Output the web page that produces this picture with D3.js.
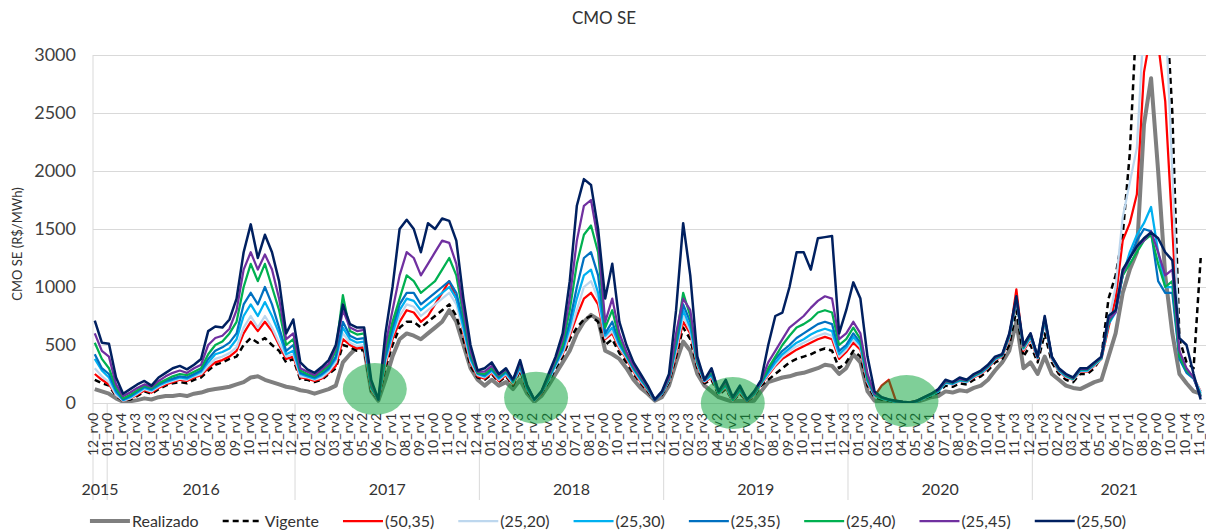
<!DOCTYPE html>
<html>
<head>
<meta charset="utf-8">
<script src="https://cdn.jsdelivr.net/npm/d3@7"></script>
<style>
  body { margin: 0; background: #fff; font-family: Lato, "Open Sans", sans-serif; }
</style>
</head>
<body>
<div id="chart"></div>
<script>
// weekly revisions (rv0, rv1, ...) per month, Jan..Dec, for each year
const monthWeeks = {
  2015: [0, 0, 0, 0, 0, 0, 0, 0, 0, 0, 0, 4],
  2016: [5, 4, 4, 5, 4, 4, 5, 4, 5, 4, 4, 5],
  2017: [4, 4, 5, 4, 4, 5, 4, 4, 5, 4, 4, 5],
  2018: [4, 4, 5, 4, 4, 5, 4, 5, 4, 4, 5, 4],
  2019: [4, 4, 5, 4, 5, 4, 4, 5, 4, 4, 5, 4],
  2020: [5, 4, 4, 4, 5, 4, 5, 4, 4, 5, 4, 4],
  2021: [5, 4, 4, 5, 4, 4, 5, 4, 4, 5, 5, 0]
};

const yTicks = [0, 500, 1000, 1500, 2000, 2500, 3000];
const labelEvery = 4;   // excel shows every 4th category
const sampleStep = 2;   // series values below are read every 2 weeks

// R$/MWh, one value every 2 weeks starting at 12_rv0 2015
const realizado = [
  120,100,80,40,10,15,25,40,30,50,
  60,60,70,60,80,90,110,120,130,140,
  160,180,220,230,200,180,160,140,130,110,
  100,80,100,120,150,350,420,480,470,100,
  20,200,400,550,600,580,550,600,650,700,
  800,700,500,300,200,150,200,150,180,120,
  200,80,10,60,150,250,350,450,600,700,
  760,720,450,420,380,300,200,130,80,20,
  50,150,350,530,450,250,150,100,50,30,
  10,20,10,20,100,180,200,220,230,250,
  260,280,300,330,320,250,300,420,350,100,
  20,10,5,0,0,0,10,30,50,60,
  100,90,110,100,130,150,200,280,350,450,
  700,300,350,250,400,250,200,150,130,120,
  150,180,200,400,600,950,1150,1300,2400,2800,
  2000,1100,600,250,170,100,80
];
const vigente = [
  200,170,150,60,20,30,60,100,80,120,
  150,170,180,170,200,220,280,330,350,380,
  400,500,560,520,560,500,450,350,380,200,
  200,180,200,250,300,500,480,450,460,100,
  30,300,500,650,700,700,650,700,750,800,
  850,750,550,320,220,200,250,180,230,150,
  280,100,20,80,180,300,400,550,650,720,
  750,700,500,550,430,350,250,170,100,25,
  70,180,400,650,550,300,170,200,70,120,
  20,80,15,60,150,200,250,300,350,380,
  400,420,450,470,450,300,350,450,400,150,
  50,30,20,10,5,0,15,40,60,90,
  150,140,170,160,200,230,280,350,380,500,
  800,400,500,350,600,350,250,200,180,250,
  250,300,400,900,1100,1450,2150,3400,3600,3600,
  3600,3600,2500,550,350,300,1250
];
const s50_35 = [
  250,200,160,70,20,40,70,110,90,130,
  160,180,200,190,220,240,300,350,370,400,
  450,600,700,620,700,620,500,380,400,220,
  210,190,210,260,320,550,500,470,480,110,
  30,330,550,700,800,780,700,750,850,950,
  1050,900,600,350,230,210,260,190,240,160,
  290,110,20,80,200,330,420,580,750,900,
  950,850,550,600,470,380,270,180,110,25,
  75,190,430,700,600,320,180,220,80,130,
  20,90,15,65,160,240,320,380,420,460,
  490,520,550,570,550,380,440,520,460,170,
  60,150,200,20,10,5,20,50,75,110,
  180,160,190,180,220,250,300,370,400,550,
  980,450,550,380,700,380,270,220,200,270,
  270,320,380,650,900,1400,1550,1800,2850,3200,
  3100,2600,1500,400,280,220,100
];
const s25_20 = [
  300,230,180,70,20,40,80,120,100,140,
  170,190,210,200,230,250,320,380,400,430,
  480,650,750,650,750,650,520,400,420,230,
  220,200,220,270,350,600,520,490,500,120,
  30,350,580,750,850,830,750,800,850,900,
  950,850,620,360,240,220,270,200,250,170,
  300,120,20,90,190,320,430,600,800,1000,
  1050,900,560,620,480,390,280,190,115,25,
  80,195,450,750,620,330,185,230,80,140,
  20,100,20,70,165,250,330,400,450,490,
  520,550,580,600,580,400,460,550,480,180,
  60,40,25,10,5,0,15,40,70,100,
  170,160,190,180,225,255,305,375,405,560,
  900,460,560,385,700,385,275,225,200,275,
  275,325,380,700,1000,1600,1900,2200,3300,3400,
  3400,3400,2000,400,280,220,100
];
const s25_30 = [
  380,280,220,90,25,50,90,130,110,150,
  180,200,220,210,240,270,350,420,440,470,
  550,750,850,750,870,750,600,420,450,250,
  230,210,240,290,380,650,550,520,530,130,
  30,380,600,800,900,880,800,850,900,950,
  1000,900,650,380,250,230,280,210,260,180,
  310,120,25,90,200,330,450,650,900,1100,
  1150,950,580,650,500,400,290,200,120,25,
  80,200,480,800,650,340,190,240,85,150,
  25,110,20,75,170,260,350,420,470,520,
  550,590,620,640,620,420,480,570,500,190,
  65,40,25,10,5,0,15,45,70,100,
  175,165,195,185,230,260,310,380,410,570,
  900,470,570,390,710,390,280,230,205,280,
  280,330,385,680,780,1100,1300,1450,1550,1690,
  1300,1000,1000,400,280,220,80
];
const s25_35 = [
  420,300,250,110,30,60,100,140,120,160,
  190,210,230,220,250,280,380,450,480,520,
  600,850,950,850,1000,850,650,450,500,260,
  240,220,250,300,400,700,580,550,560,140,
  30,400,650,850,950,950,850,900,950,1000,
  1050,950,700,400,255,240,290,220,270,190,
  320,130,25,90,210,340,470,700,1000,1250,
  1300,1100,600,700,520,410,300,210,125,25,
  85,205,500,850,700,350,195,250,90,160,
  30,120,20,80,175,280,380,450,500,560,
  600,640,680,700,680,450,500,600,520,200,
  70,45,30,10,5,0,15,45,75,105,
  180,170,200,190,235,265,315,385,410,580,
  900,480,580,395,720,395,285,235,210,285,
  285,335,390,690,790,1100,1250,1400,1500,1480,
  1050,950,950,380,260,210,60
];
const s25_40 = [
  520,380,300,130,40,70,110,150,130,170,
  200,230,250,240,270,300,420,500,530,600,
  700,1000,1200,1050,1200,1000,800,500,550,280,
  250,230,270,320,450,930,620,590,600,150,
  30,450,700,900,1100,1050,950,1000,1050,1150,
  1250,1100,750,420,260,250,300,230,280,200,
  340,140,30,100,220,360,500,800,1200,1450,
  1530,1300,650,800,550,420,310,220,130,30,
  90,210,550,950,750,360,200,270,90,170,
  30,130,25,85,180,300,400,500,580,650,
  680,720,780,800,780,500,550,650,550,220,
  75,45,30,15,8,0,20,50,75,110,
  185,175,205,190,240,270,320,390,415,580,
  900,480,590,400,730,400,290,240,210,290,
  290,340,390,700,800,1100,1200,1300,1400,1450,
  1200,1000,1050,400,280,220,60
];
const s25_45 = [
  600,450,400,160,60,90,130,160,140,190,
  230,260,280,260,300,330,500,560,580,640,
  800,1150,1300,1150,1280,1150,900,550,600,300,
  270,240,290,340,480,800,650,620,630,160,
  30,500,800,1100,1300,1250,1100,1200,1300,1400,
  1380,1200,800,450,270,270,320,240,290,200,
  350,150,30,100,230,380,550,900,1400,1700,
  1750,1400,700,900,600,440,320,230,140,30,
  95,220,600,900,800,380,200,290,100,180,
  40,140,25,90,190,350,450,550,650,700,
  750,820,880,920,900,550,600,700,600,250,
  80,50,30,15,8,0,20,50,80,115,
  190,180,210,195,245,275,325,395,420,590,
  900,490,600,400,740,400,295,245,215,295,
  295,345,395,720,780,1120,1250,1350,1400,1480,
  1300,1100,1150,450,300,220,50
];
const s25_50 = [
  710,520,510,220,80,120,160,190,150,220,
  260,300,320,290,330,380,620,660,650,720,
  900,1300,1540,1250,1450,1300,1050,600,720,350,
  290,260,310,370,500,850,680,650,650,200,
  30,600,1000,1500,1580,1500,1300,1550,1500,1590,
  1570,1400,900,500,280,300,350,250,300,200,
  370,150,30,100,250,400,600,1050,1700,1930,
  1880,1500,900,1200,700,500,350,250,150,30,
  100,250,800,1550,1100,400,200,300,100,200,
  50,150,30,100,200,500,750,780,1000,1300,
  1300,1150,1420,1430,1440,600,800,1040,900,400,
  100,50,30,20,10,5,20,50,80,120,
  200,180,220,200,250,280,330,400,420,600,
  920,500,600,400,750,400,300,250,220,300,
  300,350,400,750,800,1150,1250,1350,1420,1470,
  1420,1300,1230,560,500,250,30
];

// green highlight ellipses (week index, value)
const highlights = [
  { week: 79, value: 120 },
  { week: 124.5, value: 45 },
  { week: 180, value: 0 },
  { week: 229, value: 17 }
];

const series = [
  { name: "Realizado", values: realizado, color: "#7f7f7f", width: 4 },
  { name: "Vigente", values: vigente, color: "#000000", width: 2.5, dash: "6,4" },
  { name: "(50,35)", values: s50_35, color: "#ff0000", width: 2.25 },
  { name: "(25,20)", values: s25_20, color: "#bdd7ee", width: 2.25 },
  { name: "(25,30)", values: s25_30, color: "#00b0f0", width: 2.25 },
  { name: "(25,35)", values: s25_35, color: "#0070c0", width: 2.25 },
  { name: "(25,40)", values: s25_40, color: "#00b050", width: 2.25 },
  { name: "(25,45)", values: s25_45, color: "#7030a0", width: 2.25 },
  { name: "(25,50)", values: s25_50, color: "#002060", width: 2.5 }
];

// build the week categories
let weeks = [];
let years = [];
Object.keys(monthWeeks).forEach(yr => {
  let start = weeks.length;
  monthWeeks[yr].forEach((n, m) => {
    for (let r = 0; r < n; r++) {
      weeks.push({ year: +yr, label: String(m + 1).padStart(2, "0") + "_rv" + r });
    }
  });
  years.push({ year: yr, start: start, end: weeks.length });
});

const W = 1206, H = 531;
const plot = { left: 93, right: 1206, top: 55, bottom: 403 };

const svg = d3.select("#chart").append("svg")
  .attr("width", W).attr("height", H);

const x = d3.scaleBand()
  .domain(d3.range(weeks.length))
  .range([plot.left, plot.right])
  .padding(0);
const bw = x.bandwidth();

const y = d3.scaleLinear().domain([0, 3000]).range([plot.bottom, plot.top]);

// title
svg.append("text")
  .attr("x", 604).attr("y", 24)
  .attr("text-anchor", "middle")
  .style("font-size", "17px").style("fill", "#333")
  .text("CMO SE");

// y axis + gridlines
const yAxis = svg.append("g")
  .attr("transform", `translate(${plot.left},0)`)
  .call(d3.axisLeft(y).tickValues(yTicks).tickSize(-(plot.right - plot.left)).tickPadding(17).tickFormat(d3.format("d")));
yAxis.select(".domain").remove();
yAxis.selectAll(".tick line").attr("stroke", "#d9d9d9");
yAxis.selectAll(".tick text")
  .style("font-size", "18px").style("font-family", "Lato, sans-serif").style("fill", "#404040");

svg.append("text")
  .attr("transform", "translate(22,244) rotate(-90)")
  .attr("text-anchor", "middle")
  .style("font-size", "13px").style("fill", "#333")
  .text("CMO SE (R$/MWh)");

// left axis line and year separators
svg.append("line")
  .attr("x1", plot.left).attr("x2", plot.left)
  .attr("y1", plot.top).attr("y2", 500)
  .attr("stroke", "#d9d9d9");

svg.selectAll(".year-sep")
  .data(years.slice(1))
  .enter().append("line")
  .attr("class", "year-sep")
  .attr("x1", d => x(d.start)).attr("x2", d => x(d.start))
  .attr("y1", plot.bottom).attr("y2", 500)
  .attr("stroke", "#d9d9d9");

// category labels
const xAxis = svg.append("g")
  .attr("transform", `translate(0,${plot.bottom})`)
  .call(d3.axisBottom(x)
    .tickValues(d3.range(0, weeks.length, labelEvery))
    .tickFormat(i => weeks[i].label)
    .tickSize(0));
xAxis.select(".domain").remove();
xAxis.selectAll(".tick text")
  .attr("transform", "rotate(-90)")
  .attr("text-anchor", "end")
  .attr("x", -10).attr("y", -2).attr("dy", "0.36em")
  .style("font-size", "14px").style("font-family", "Lato, sans-serif").style("fill", "#333");

// year labels
svg.selectAll(".year-label")
  .data(years)
  .enter().append("text")
  .attr("class", "year-label")
  .attr("x", d => (x(d.start) + (d.end < weeks.length ? x(d.end) : plot.right)) / 2)
  .attr("y", 495)
  .attr("text-anchor", "middle")
  .style("font-size", "16px").style("fill", "#333")
  .text(d => d.year);

// lines
svg.append("clipPath").attr("id", "plot-clip")
  .append("rect")
  .attr("x", plot.left).attr("y", plot.top)
  .attr("width", plot.right - plot.left).attr("height", plot.bottom - plot.top);

const line = d3.line()
  .x((d, k) => x(k * sampleStep) + bw / 2)
  .y(d => y(d));

svg.append("g").attr("clip-path", "url(#plot-clip)")
  .selectAll(".series")
  .data(series)
  .enter().append("path")
  .attr("class", "series")
  .attr("d", d => line(d.values))
  .attr("fill", "none")
  .attr("stroke", d => d.color)
  .attr("stroke-width", d => d.width)
  .attr("stroke-dasharray", d => d.dash || null)
  .attr("stroke-linejoin", "round");

// highlight ellipses
svg.selectAll(".hl")
  .data(highlights)
  .enter().append("ellipse")
  .attr("class", "hl")
  .attr("cx", d => x(0) + (d.week + 0.5) * bw)
  .attr("cy", d => y(d.value))
  .attr("rx", 32).attr("ry", 26)
  .attr("fill", "rgb(0,160,50)")
  .attr("fill-opacity", 0.5);

// legend
const legend = svg.append("g");
let lx = 0;
series.forEach(s => {
  const g = legend.append("g").attr("transform", `translate(${lx},0)`);
  g.append("line")
    .attr("x1", 0).attr("x2", 40).attr("y1", 0).attr("y2", 0)
    .attr("stroke", s.color)
    .attr("stroke-width", s.width)
    .attr("stroke-dasharray", s.dash || null);
  const t = g.append("text")
    .attr("x", 42).attr("y", 0).attr("dy", "0.35em")
    .style("font-size", "16px").style("fill", "#333")
    .text(s.name);
  lx += 42 + t.node().getComputedTextLength() + 24;
});
legend.attr("transform", `translate(${608 - (lx - 24) / 2},521)`);
</script>
</body>
</html>
